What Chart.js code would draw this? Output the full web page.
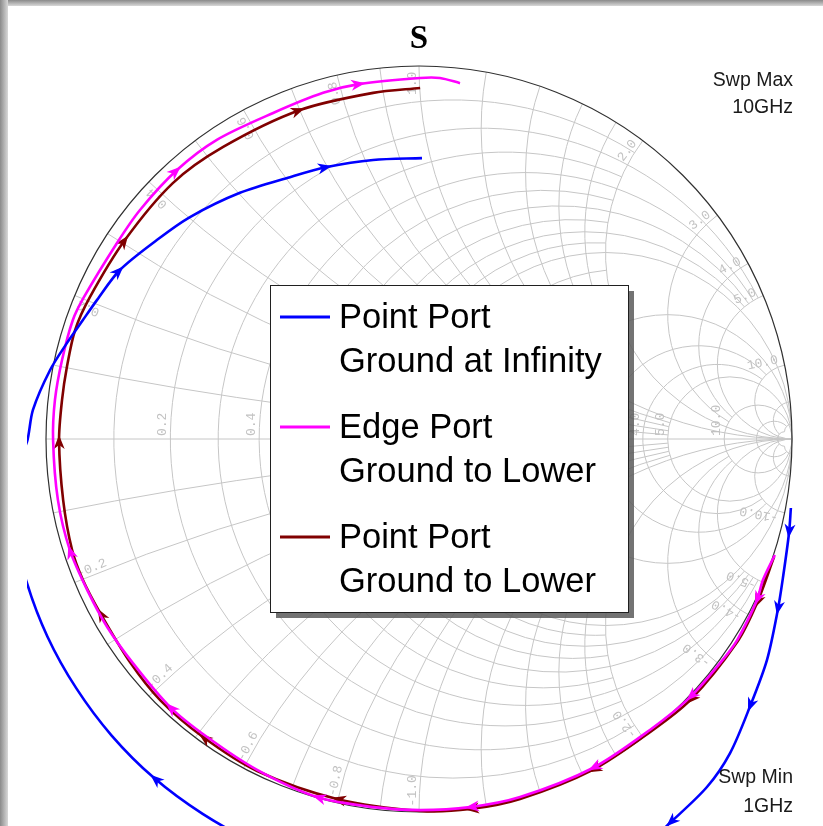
<!DOCTYPE html>
<html><head><meta charset="utf-8">
<script src="https://cdn.jsdelivr.net/npm/chart.js@4/dist/chart.umd.min.js"></script>
<style>html,body{margin:0;padding:0;background:#fff;overflow:hidden}canvas{display:block}</style>
</head><body>
<canvas id="c" width="823" height="826"></canvas>
<script>
// ---------------- data (reflection coefficient, real / imaginary) ----------------
const chartTitle = "S";
const seriesLabels = [["Point Port", "Ground at Infinity"], ["Edge Port", "Ground to Lower"], ["Point Port", "Ground to Lower"]];
const sweepMax = ["Swp Max", "10GHz"];
const sweepMin = ["Swp Min", "1GHz"];

const blueRe = [0.997,0.992,0.976,0.962,0.933,0.887,0.834,0.772,0.673,0.592,0.405,0.137,-0.124,-0.284,-0.438,-0.580,-0.710,-0.824,-0.919,-0.996,-1.052,-1.084,-1.088,-1.072,-1.051,-1.035,-0.989,-0.944,-0.901,-0.863,-0.802,-0.702,-0.614,-0.480,-0.346,-0.247,-0.123,0.008];
const blueIm = [-0.185,-0.252,-0.370,-0.458,-0.592,-0.718,-0.842,-0.933,-1.029,-1.102,-1.177,-1.209,-1.177,-1.141,-1.083,-1.005,-0.909,-0.795,-0.668,-0.530,-0.383,-0.240,-0.130,-0.050,-0.008,0.078,0.185,0.257,0.319,0.373,0.453,0.534,0.595,0.660,0.702,0.729,0.748,0.753];
const blueArrows = [1,3,5,8,16,30,35];

const magentaRe = [0.954,0.922,0.906,0.853,0.807,0.727,0.619,0.466,0.271,0.137,0.003,-0.123,-0.273,-0.434,-0.568,-0.668,-0.767,-0.836,-0.887,-0.936,-0.968,-0.981,-0.976,-0.957,-0.928,-0.898,-0.810,-0.748,-0.649,-0.542,-0.391,-0.257,-0.158,0.003,0.056,0.110];
const magentaIm = [-0.311,-0.378,-0.432,-0.539,-0.601,-0.692,-0.780,-0.882,-0.960,-0.987,-0.995,-0.987,-0.960,-0.887,-0.799,-0.718,-0.601,-0.504,-0.410,-0.298,-0.164,-0.003,0.105,0.212,0.319,0.381,0.525,0.614,0.721,0.802,0.874,0.928,0.952,0.968,0.968,0.954];
const magentaArrows = [2,5,7,9,12,15,19,28,32];

const darkRedRe = [0.952,0.906,0.853,0.727,0.619,0.466,0.271,0.137,0.003,-0.220,-0.434,-0.579,-0.694,-0.775,-0.855,-0.901,-0.930,-0.954,-0.965,-0.957,-0.944,-0.922,-0.882,-0.788,-0.660,-0.525,-0.319,-0.123,0.003];
const darkRedIm = [-0.316,-0.440,-0.544,-0.700,-0.786,-0.887,-0.965,-0.992,-0.997,-0.965,-0.890,-0.799,-0.700,-0.598,-0.466,-0.378,-0.298,-0.164,-0.003,0.105,0.193,0.292,0.381,0.534,0.686,0.783,0.882,0.928,0.941];
const darkRedArrows = [1,3,5,7,9,11,14,18,23,26];

// Smith grid: constant-resistance circles / constant-reactance arcs and how far each extends
const resistanceValues = [0.1,0.2,0.3,0.4,0.5,0.6,0.7,0.8,0.9,1,1.2,1.4,1.6,1.8,2,3,4,5,10,20,50];
const resistanceReach  = [2,5,2,5,2,5,2,5,2,Infinity,2,2,2,2,Infinity,10,10,Infinity,Infinity,50,50];
const reactanceValues  = [0.1,0.2,0.3,0.4,0.5,0.6,0.7,0.8,0.9,1,1.2,1.4,1.6,1.8,2,3,4,5,10,20,50];
const reactanceReach   = [2,5,2,5,2,5,2,5,2,Infinity,2,2,2,2,Infinity,10,10,Infinity,Infinity,50,50];
const resistanceTickLabels = [0.2,0.4,0.6,0.8,1.0,2.0,3.0,4.0,5.0,10.0];
const reactanceTickLabels  = [0.2,0.4,0.6,0.8,1.0,2.0,3.0,4.0,5.0,10.0];

// ---------------- helpers ----------------
const CX = 419, CY = 439, RAD = 373;
const AREA = {left: 27, right: 811, top: 60, bottom: 826};
const colors = ['#0000ff', '#ff00ff', '#800000'];
const arrowSets = [blueArrows, magentaArrows, darkRedArrows];

function zToG(r, x) {
  const a = r - 1, c = r + 1, den = c * c + x * x;
  return [(a * c + x * x) / den, (x * c - a * x) / den];
}
function pts(re, im) { return re.map((v, i) => ({x: v, y: im[i]})); }

const smithGrid = {
  id: 'smithGrid',
  beforeDatasetsDraw(chart) {
    const ctx = chart.ctx, sx = chart.scales.x, sy = chart.scales.y;
    const P = (gx, gy) => [sx.getPixelForValue(gx), sy.getPixelForValue(gy)];
    const k = sx.getPixelForValue(1) - sx.getPixelForValue(0);
    const [ox, oy] = P(0, 0);
    ctx.save();
    ctx.strokeStyle = '#c6c6c6';
    ctx.lineWidth = 1;
    resistanceValues.forEach((r, i) => {
      const cxg = r / (1 + r), R = 1 / (1 + r);
      const [pcx, pcy] = P(cxg, 0);
      ctx.beginPath();
      const lim = resistanceReach[i];
      if (!isFinite(lim)) ctx.arc(pcx, pcy, R * k, 0, 2 * Math.PI);
      else {
        const g = zToG(r, lim);
        const phi = Math.atan2(g[1], g[0] - cxg);
        ctx.arc(pcx, pcy, R * k, -phi, phi, true);
      }
      ctx.stroke();
    });
    reactanceValues.forEach((xv, i) => {
      [xv, -xv].forEach(x => {
        const cyg = 1 / x, R = Math.abs(1 / x);
        const [pcx, pcy] = P(1, cyg);
        const g0 = zToG(0, x);
        const lim = reactanceReach[i];
        const g1 = isFinite(lim) ? zToG(lim, x) : [1, 0];
        const a0 = -Math.atan2(g0[1] - cyg, g0[0] - 1);
        const a1 = -Math.atan2(g1[1] - cyg, g1[0] - 1);
        let d = a1 - a0;
        while (d > Math.PI) d -= 2 * Math.PI;
        while (d < -Math.PI) d += 2 * Math.PI;
        ctx.beginPath();
        ctx.arc(pcx, pcy, R * k, a0, a0 + d, d < 0);
        ctx.stroke();
      });
    });
    ctx.beginPath();
    ctx.moveTo(...P(-1, 0)); ctx.lineTo(...P(1, 0)); ctx.stroke();
    ctx.strokeStyle = '#303030';
    ctx.lineWidth = 1.2;
    ctx.beginPath(); ctx.arc(ox, oy, k, 0, 2 * Math.PI); ctx.stroke();

    ctx.fillStyle = '#c2c2c2';
    ctx.font = '13px "Liberation Mono", "DejaVu Sans Mono", monospace';
    resistanceTickLabels.forEach(r => {
      const [px, py] = P((r - 1) / (r + 1), 0);
      ctx.save(); ctx.translate(px, py - 3); ctx.rotate(-Math.PI / 2);
      ctx.textAlign = 'left'; ctx.textBaseline = 'alphabetic';
      ctx.fillText(r.toFixed(1), 0, -4);
      ctx.restore();
    });
    reactanceTickLabels.forEach(xv => {
      [xv, -xv].forEach(x => {
        const g = zToG(0, x);
        const th = Math.atan2(g[1], g[0]);
        const [px, py] = P(g[0] * 0.985, g[1] * 0.985);
        ctx.save(); ctx.translate(px, py);
        if (x > 0) { ctx.rotate(-th); ctx.textAlign = 'right'; }
        else { ctx.rotate(Math.atan2(Math.sin(th), -Math.cos(th))); ctx.textAlign = 'left'; }
        ctx.textBaseline = 'alphabetic';
        ctx.fillText((x < 0 ? '-' : '') + Math.abs(x).toFixed(1), 0, -3);
        ctx.restore();
      });
    });
    ctx.restore();
  }
};

function drawArrow(ctx, x, y, ang, color) {
  ctx.save();
  ctx.translate(x, y); ctx.rotate(ang);
  ctx.fillStyle = color;
  ctx.beginPath();
  ctx.moveTo(5, 0);
  ctx.lineTo(-9, -5.5);
  ctx.lineTo(-5, 0);
  ctx.lineTo(-9, 5.5);
  ctx.closePath();
  ctx.fill();
  ctx.restore();
}

const arrowPlugin = {
  id: 'arrowHeads',
  afterDatasetDraw(chart, args) {
    const meta = args.meta, ctx = chart.ctx, ca = chart.chartArea;
    const list = arrowSets[args.index];
    ctx.save();
    ctx.beginPath(); ctx.rect(ca.left, ca.top, ca.right - ca.left, ca.bottom - ca.top); ctx.clip();
    list.forEach(kk => {
      const p = meta.data[kk];
      const a = meta.data[Math.max(0, kk - 1)], b = meta.data[Math.min(meta.data.length - 1, kk + 1)];
      drawArrow(ctx, p.x, p.y, Math.atan2(b.y - a.y, b.x - a.x), colors[args.index]);
    });
    ctx.restore();
  }
};

const decor = {
  id: 'decor',
  afterDraw(chart) {
    const ctx = chart.ctx;
    ctx.save();
    ctx.fillStyle = '#000';
    ctx.font = 'bold 33px "Liberation Serif", "Times New Roman", serif';
    ctx.textAlign = 'center'; ctx.textBaseline = 'alphabetic';
    ctx.fillText(chartTitle, 419, 48);
    ctx.font = '19.5px "Liberation Sans", Arial, sans-serif';
    ctx.fillStyle = '#1a1a1a';
    ctx.textAlign = 'right';
    ctx.fillText(sweepMax[0], 793, 86);
    ctx.fillText(sweepMax[1], 793, 113);
    ctx.fillText(sweepMin[0], 793, 783);
    ctx.fillText(sweepMin[1], 793, 812);
    const L = 270, T = 285, Rr = 628, B = 612;
    ctx.fillStyle = 'rgba(90,90,90,0.85)';
    ctx.fillRect(L + 6, T + 6, Rr - L, B - T);
    ctx.fillStyle = '#fff';
    ctx.fillRect(L, T, Rr - L, B - T);
    ctx.strokeStyle = '#202020'; ctx.lineWidth = 1;
    ctx.strokeRect(L + 0.5, T + 0.5, Rr - L, B - T);
    ctx.font = '34.5px "Liberation Sans", Arial, sans-serif';
    ctx.textAlign = 'left';
    seriesLabels.forEach((lines, i) => {
      const base = 328 + i * 110;
      ctx.strokeStyle = colors[i]; ctx.lineWidth = 3;
      ctx.beginPath(); ctx.moveTo(280, base - 11); ctx.lineTo(330, base - 11); ctx.stroke();
      ctx.fillStyle = '#000';
      ctx.fillText(lines[0], 339, base);
      ctx.fillText(lines[1], 339, base + 44);
    });
    const gt = ctx.createLinearGradient(0, 0, 0, 6);
    gt.addColorStop(0, '#8a8a8a'); gt.addColorStop(1, '#d8d8d8');
    ctx.fillStyle = gt; ctx.fillRect(0, 0, 823, 6);
    const gl = ctx.createLinearGradient(0, 0, 8, 0);
    gl.addColorStop(0, '#8a8a8a'); gl.addColorStop(1, '#d8d8d8');
    ctx.fillStyle = gl; ctx.fillRect(0, 0, 8, 826);
    ctx.restore();
  }
};

const mk = (i, re, im) => ({
  label: seriesLabels[i].join(' '),
  data: pts(re, im),
  showLine: true,
  borderColor: colors[i],
  backgroundColor: colors[i],
  borderWidth: 2.6,
  pointRadius: 0,
  pointHoverRadius: 0,
  tension: 0.3,
  fill: false
});

new Chart(document.getElementById('c'), {
  type: 'scatter',
  data: {
    datasets: [mk(0, blueRe, blueIm), mk(1, magentaRe, magentaIm), mk(2, darkRedRe, darkRedIm)]
  },
  options: {
    responsive: false,
    animation: false,
    devicePixelRatio: 1,
    layout: {padding: {left: AREA.left, right: 823 - AREA.right, top: AREA.top, bottom: 826 - AREA.bottom}},
    elements: {line: {capBezierPoints: false}},
    scales: {
      x: {type: 'linear', display: false, bounds: 'data', min: (AREA.left - CX) / RAD, max: (AREA.right - CX) / RAD},
      y: {type: 'linear', display: false, bounds: 'data', min: (CY - AREA.bottom) / RAD, max: (CY - AREA.top) / RAD}
    },
    plugins: {legend: {display: false}, tooltip: {enabled: false}, title: {display: false}}
  },
  plugins: [smithGrid, arrowPlugin, decor]
});
</script>
</body></html>
